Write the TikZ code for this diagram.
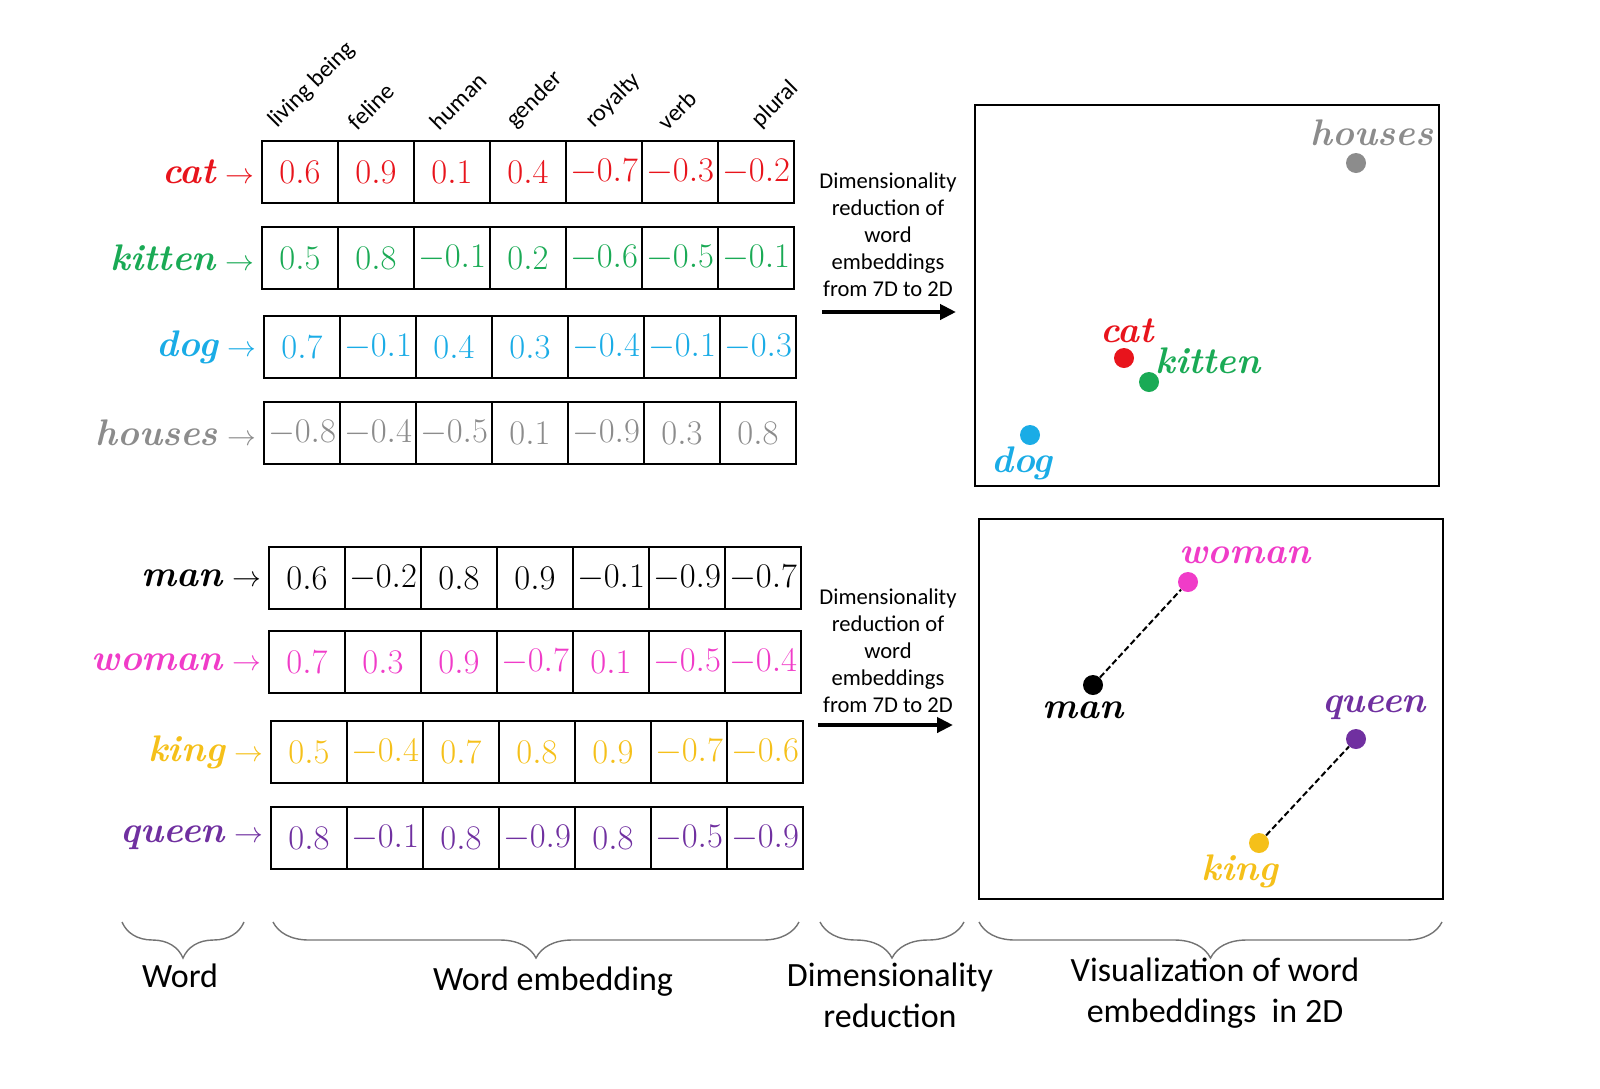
\documentclass[tikz,border=0pt]{standalone}
\usepackage{fontspec}
\newfontfamily\calibri{Carlito}
\usetikzlibrary{arrows.meta}
\usetikzlibrary{decorations.pathreplacing}

\definecolor{catred}{HTML}{E8141C}
\definecolor{kittengreen}{HTML}{1AAA55}
\definecolor{dogblue}{HTML}{1AACE6}
\definecolor{housegray}{HTML}{8C8C8C}
\definecolor{womanpink}{HTML}{F03CC8}
\definecolor{kinggold}{HTML}{F5C01A}
\definecolor{queenpurple}{HTML}{7030A0}

\tikzset{
    cell/.style={draw, line width=1pt, minimum width=38pt, minimum height=31pt,
                 inner sep=0pt, font=\fontsize{16.5}{20}\selectfont},
    wordlbl/.style={anchor=east, inner sep=0pt, font=\fontsize{18.5}{20}\selectfont\bfseries\itshape},
    feature/.style={anchor=south west, rotate=45, inner sep=0pt, font=\calibri\fontsize{12}{14}\selectfont},
    dot/.style={circle, minimum size=10pt, inner sep=0pt},
    ptlbl/.style={inner sep=0pt, font=\fontsize{18.5}{20}\selectfont\bfseries\itshape},
    reduce/.style={align=center, inner sep=0pt, font=\calibri\fontsize{11.3}{13.5}\selectfont},
    bigarrow/.style={line width=2pt, -{Triangle[length=8pt,width=7.5pt]}},
    bracebelow/.style={decorate, decoration={brace, mirror, amplitude=18pt}, line width=0.7pt, draw=black!55},
    caption/.style={align=center, inner sep=0pt, font=\calibri\fontsize{17}{20.5}\selectfont},
    pairline/.style={dashed, dash pattern=on 3pt off 1.5pt, line width=1pt},
}

\begin{document}
\begin{tikzpicture}[x=0.5pt,y=-0.5pt]
    \useasboundingbox (0,0) rectangle (1600,1088);

    % feature names over the first row
    \foreach \f/\hx [count=\k] in {living being/280, feline/358, human/440, gender/518,
                                   royalty/597, verb/668, plural/763}
        \node[feature] (feat-\k) at (\hx,132) {\f};

    % one row of seven cells per word
    \foreach \wname/\wcol/\y/\x/\vals in {
            cat/catred/172/262/{0.6,0.9,0.1,0.4,-0.7,-0.3,-0.2},
            kitten/kittengreen/258/262/{0.5,0.8,-0.1,0.2,-0.6,-0.5,-0.1},
            dog/dogblue/347/264/{0.7,-0.1,0.4,0.3,-0.4,-0.1,-0.3},
            houses/housegray/433/264/{-0.8,-0.4,-0.5,0.1,-0.9,0.3,0.8},
            man/black/578/269/{0.6,-0.2,0.8,0.9,-0.1,-0.9,-0.7},
            woman/womanpink/662/269/{0.7,0.3,0.9,-0.7,0.1,-0.5,-0.4},
            king/kinggold/752/271/{0.5,-0.4,0.7,0.8,0.9,-0.7,-0.6},
            queen/queenpurple/838/271/{0.8,-0.1,0.8,-0.9,0.8,-0.5,-0.9}}{
        \foreach \v [count=\i] in \vals
            \node[cell, text=\wcol] (\wname-\i) at ({\x+38+76*(\i-1)},\y) {$\v$};
        \node[wordlbl, text=\wcol] (\wname-lbl) at ([xshift=-3pt]\wname-1.west)
            {\wname\hspace{5pt}{\fontsize{15}{16}\selectfont$\rightarrow$}};
    }

    % dimensionality reduction
    \node[reduce] (red-top) at (888,235) {Dimensionality\\reduction of\\word\\embeddings\\from 7D to 2D};
    \node[reduce] (red-bot) at (888,651) {Dimensionality\\reduction of\\word\\embeddings\\from 7D to 2D};
    \coordinate (arr1-s) at (822,312);
    \coordinate (arr1-e) at (956,312);
    \coordinate (arr2-s) at (818,725);
    \coordinate (arr2-e) at (953,725);
    \draw[bigarrow] (arr1-s) -- (arr1-e);
    \draw[bigarrow] (arr2-s) -- (arr2-e);

    % 2D plots
    \draw[line width=1pt] (975,105) rectangle (1439,486);
    \draw[line width=1pt] (979,519) rectangle (1443,899);

    \node[dot, fill=housegray] (houses-pt) at (1356,163) {};
    \node[dot, fill=catred] (cat-pt) at (1124,358) {};
    \node[dot, fill=kittengreen] (kitten-pt) at (1149,382) {};
    \node[dot, fill=dogblue] (dog-pt) at (1030,435) {};
    \node[ptlbl, text=housegray] (houses-txt) at (1372,133) {houses};
    \node[ptlbl, text=catred] (cat-txt) at (1127,331) {cat};
    \node[ptlbl, text=kittengreen] (kitten-txt) at (1208,361) {kitten};
    \node[ptlbl, text=dogblue] (dog-txt) at (1022,463) {dog};

    \node[dot, fill=womanpink] (woman-pt) at (1188,582) {};
    \node[dot, fill=black] (man-pt) at (1093,685) {};
    \node[dot, fill=queenpurple] (queen-pt) at (1356,739) {};
    \node[dot, fill=kinggold] (king-pt) at (1259,843) {};
    \node[ptlbl, text=womanpink] (woman-txt) at (1245,555) {woman};
    \node[ptlbl, text=black] (man-txt) at (1083,710) {man};
    \node[ptlbl, text=queenpurple] (queen-txt) at (1374,708) {queen};
    \node[ptlbl, text=kinggold] (king-txt) at (1240,871) {king};
    \draw[pairline] (man-pt) -- (woman-pt);
    \draw[pairline] (king-pt) -- (queen-pt);

    % braces and captions
    \coordinate (br1-l) at (122,922);
    \coordinate (br1-r) at (244,922);
    \coordinate (br2-l) at (273,922);
    \coordinate (br2-r) at (799,922);
    \coordinate (br3-l) at (820,922);
    \coordinate (br3-r) at (964,922);
    \coordinate (br4-l) at (979,922);
    \coordinate (br4-r) at (1442,922);
    \draw[bracebelow] (br1-l) -- (br1-r);
    \draw[bracebelow] (br2-l) -- (br2-r);
    \draw[bracebelow] (br3-l) -- (br3-r);
    \draw[bracebelow] (br4-l) -- (br4-r);

    \node[caption] (cap-word) at (180,976) {Word};
    \node[caption] (cap-emb) at (553,982) {Word embedding};
    \node[caption] (cap-red) at (890,995) {Dimensionality\\reduction};
    \node[caption] (cap-vis) at (1215,993) {Visualization of word\\embeddings\ \ in 2D};
\end{tikzpicture}
\end{document}
